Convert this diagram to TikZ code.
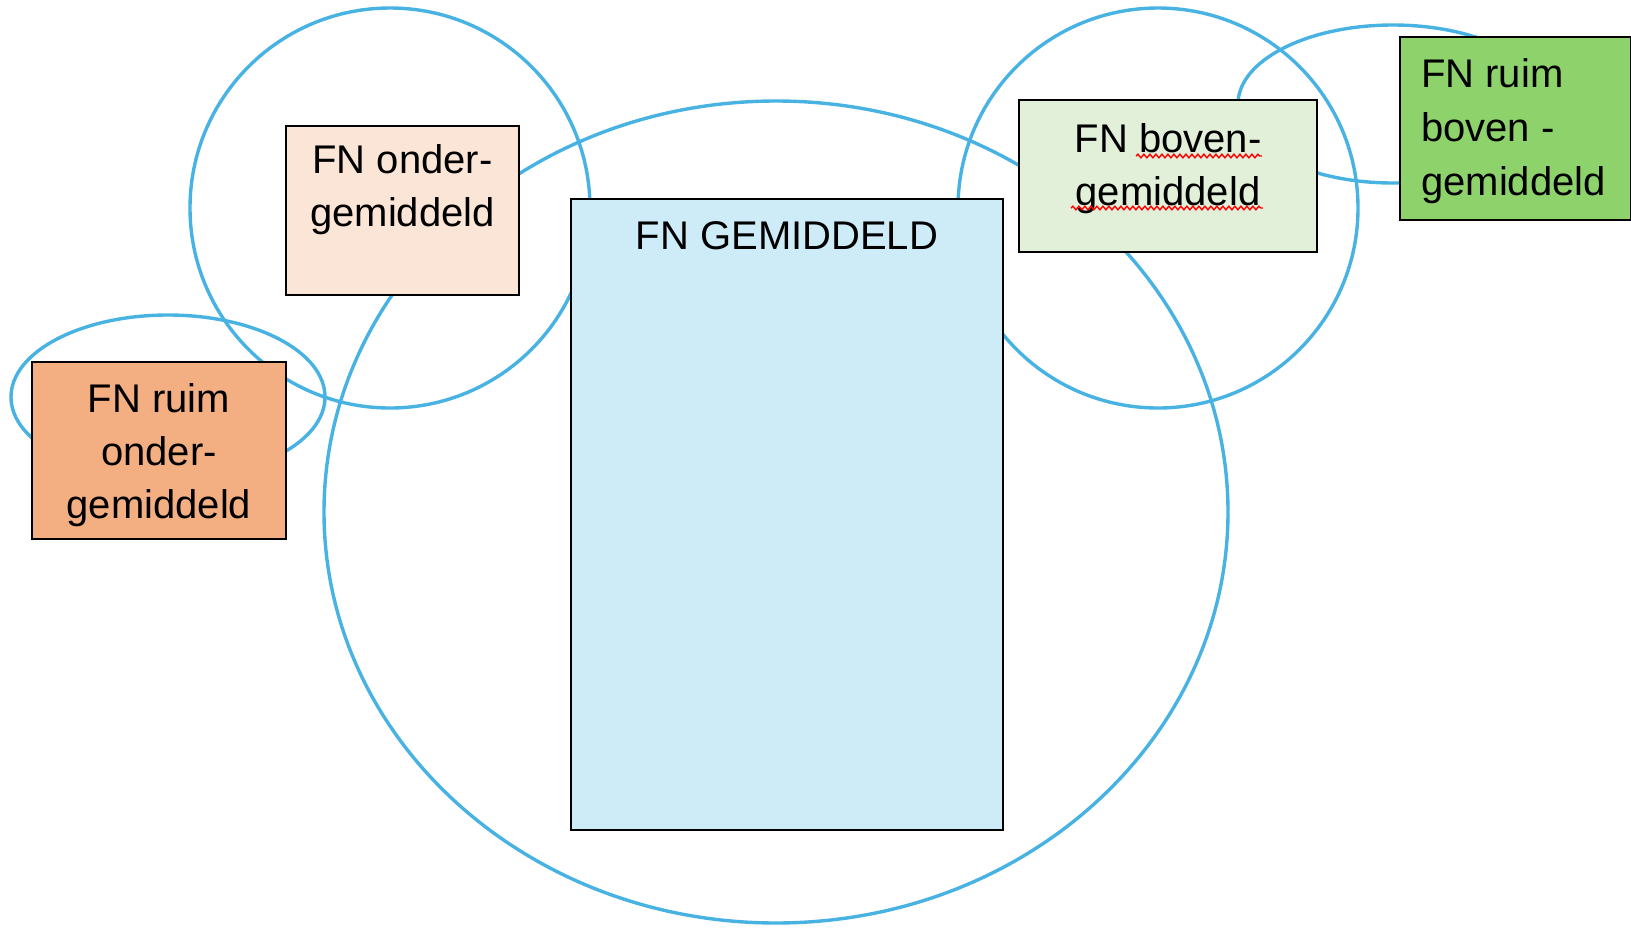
\documentclass[tikz,border=0pt]{standalone}
\usepackage{fontspec}
\setmainfont{Liberation Sans}
\usetikzlibrary{decorations.pathmorphing,calc}
\definecolor{ring}{RGB}{72,178,226}
\definecolor{peach}{RGB}{251,229,214}
\definecolor{skyfill}{RGB}{205,236,248}
\definecolor{palegreen}{RGB}{226,240,217}
\definecolor{midgreen}{RGB}{142,210,107}
\definecolor{orangefill}{RGB}{243,174,130}
\tikzset{
  ringline/.style={draw=ring, line width=3.4pt},
  boxnode/.style={draw=black, line width=2pt, rectangle, inner sep=0pt, anchor=north west},
  lbl/.style={inner sep=0pt, anchor=north, align=center, font=\fontsize{40}{53}\selectfont},
  lbll/.style={inner sep=0pt, anchor=north west, align=left, font=\fontsize{40}{54}\selectfont},
  squiggle/.style={draw=red, line width=1.4pt, decorate, decoration={snake, amplitude=1.8pt, segment length=6pt}}
}
\begin{document}
\begin{tikzpicture}[x=1pt,y=-1pt]
\useasboundingbox (0,0) rectangle (1631,927);
% rings
\draw[ringline] (776,512) ellipse [x radius=452, y radius=411];
\draw[ringline] (390,208) circle [radius=200];
\draw[ringline] (168,397) ellipse [x radius=157, y radius=82];
\draw[ringline] (1158,208) circle [radius=200];
\draw[ringline] (1393,104) ellipse [x radius=155, y radius=79];
% boxes
\node[boxnode, fill=peach, minimum width=233, minimum height=169] (onder) at (285,125) {};
\node[boxnode, fill=skyfill, minimum width=432, minimum height=631] (gem) at (570,198) {};
\node[boxnode, fill=palegreen, minimum width=298, minimum height=152] (boven) at (1018,99) {};
\node[boxnode, fill=midgreen, minimum width=231, minimum height=183] (ruimboven) at (1399,36) {};
\node[boxnode, fill=orangefill, minimum width=254, minimum height=177] (ruimonder) at (31,361) {};
% labels
\node[lbl] (onderT) at ($(onder.north)+(0,19)$) {FN onder-\\gemiddeld};
\node[lbl] (gemT) at ($(gem.north)+(0,23)$) {FN GEMIDDELD};
\node[lbl] (bovenT) at ($(boven.north)+(0,24)$) {FN boven-\\gemiddeld};
\node[lbll] (ruimbovenT) at ($(ruimboven.north west)+(22,22)$) {FN ruim\\boven -\\gemiddeld};
\node[lbl] (ruimonderT) at ($(ruimonder.north)+(0,22)$) {FN ruim\\onder-\\gemiddeld};
% spelling squiggles
\coordinate (sq1a) at (1136,156);
\coordinate (sq1b) at (1262,156);
\coordinate (sq2a) at (1071,208);
\coordinate (sq2b) at (1263,208);
\draw[squiggle] (sq1a) -- (sq1b);
\draw[squiggle] (sq2a) -- (sq2b);
\end{tikzpicture}
\end{document}
